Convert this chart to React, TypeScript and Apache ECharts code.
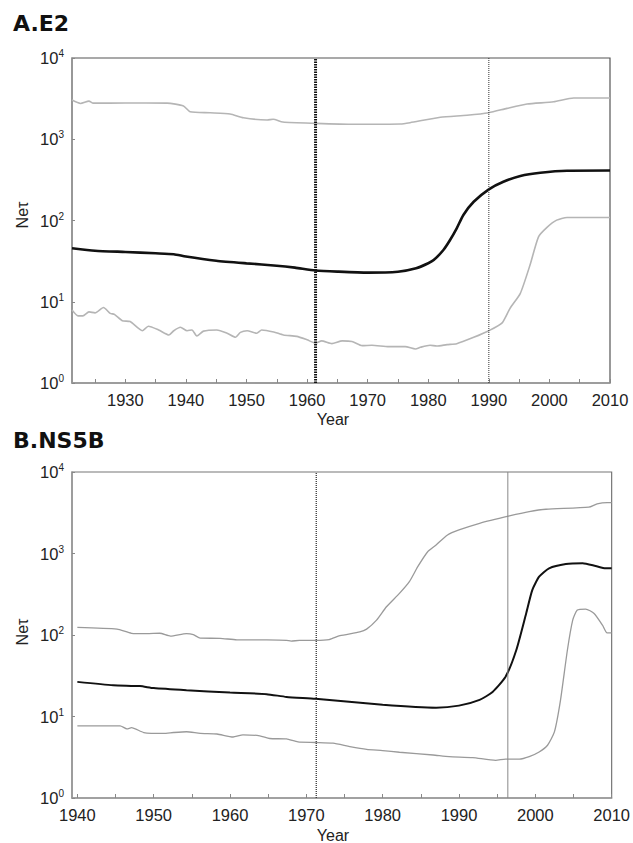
import React, { useEffect, useRef } from "react";
import * as echarts from "echarts";

// ---- Panel A (E2) ----
const aMedian: [number, number][] = [[1921.2,45.5],[1925,42.5],[1930,41],[1935,39.5],[1938,38.5],[1940,36],[1945,32],[1950,29.7],[1955,27.8],[1958,26.3],[1961.4,24.3],[1965,23.5],[1970,22.8],[1975,23.4],[1978,25.8],[1980,29.8],[1980.9,32.6],[1982.5,43.3],[1983.6,57.5],[1984.7,80],[1985.8,117],[1987.5,170],[1990,242],[1992.4,300],[1995.2,353],[1998.5,387],[2002.9,410],[2010,412]];
const aUpper: [number, number][] = [[1921.2,3040],[1922.6,2760],[1924,2950],[1924.7,2780],[1930,2790],[1936.9,2780],[1939.6,2570],[1940.7,2185],[1944,2120],[1947.3,2045],[1949.5,1840],[1953.4,1725],[1954.4,1760],[1956,1630],[1961.4,1570],[1967.7,1528],[1975.4,1540],[1977,1600],[1982,1862],[1986.4,1972],[1990,2120],[1993,2400],[1996.3,2715],[2000.7,2890],[2004,3220],[2010,3220]];
const aLower: [number, number][] = [[1921.2,7.9],[1922.2,6.7],[1923,6.7],[1924,7.5],[1925,7.3],[1926.4,8.5],[1927.5,7.2],[1928.2,7.0],[1929.5,5.85],[1930.8,5.7],[1932.8,4.4],[1933.8,5.0],[1935.5,4.5],[1937.2,3.9],[1938,4.4],[1939.1,4.85],[1940.2,4.4],[1941,4.5],[1941.8,3.8],[1942.9,4.35],[1945.1,4.5],[1946.8,4.1],[1948.2,3.65],[1949,4.2],[1950.1,4.4],[1951.7,4.1],[1952.5,4.5],[1954.5,4.25],[1956.1,3.9],[1958.3,3.75],[1960,3.4],[1961.4,3.1],[1962.4,3.3],[1964.1,3.05],[1965.8,3.3],[1967.4,3.25],[1969.1,2.88],[1970.7,2.92],[1973.5,2.8],[1976.2,2.8],[1977.9,2.62],[1978.7,2.75],[1980.3,2.92],[1981.4,2.85],[1983.1,2.97],[1984.7,3.05],[1987.5,3.65],[1990,4.4],[1992.2,5.5],[1993.5,8.3],[1995.2,12.7],[1996.8,28.3],[1998.2,63],[1999.6,82.5],[2001.2,101],[2002.9,109],[2010,109]];
const aMarks = [1961.4, 1990];

// ---- Panel B (NS5B) ----
const bMedian: [number, number][] = [[1940,26.6],[1944.7,24.2],[1948.2,23.6],[1950,22.3],[1954.3,21],[1960,19.7],[1964.8,18.8],[1967.4,17.4],[1971.2,16.5],[1980,13.9],[1987,12.8],[1990,13.6],[1992.7,16],[1994.4,20],[1996.1,30.7],[1997.5,65],[1998.8,184],[1999.6,356],[2000.5,519],[2001.8,658],[2004,743],[2006.2,758],[2007.9,702],[2009.2,658],[2010,658]];
const bUpper: [number, number][] = [[1940,124],[1945.2,118],[1947.1,105],[1949.1,104],[1950.8,105],[1952.2,97],[1954.3,104],[1955.2,101],[1956.1,91.6],[1958.7,91],[1960.9,87.3],[1964.8,87],[1967.4,86],[1968,84],[1969.1,86],[1971.2,86],[1973,88],[1974.4,98],[1977,109],[1977.9,118],[1979.2,152],[1980.5,222],[1982.2,324],[1983.5,451],[1984.6,689],[1985.9,1052],[1987,1272],[1988.5,1686],[1990,1944],[1992.7,2350],[1996.6,2890],[1999.2,3266],[2001.4,3490],[2007,3700],[2008.1,4060],[2009.4,4210],[2010,4210]];
const bLower: [number, number][] = [[1940,7.67],[1945.6,7.67],[1946.5,7.04],[1947.1,7.3],[1948.7,6.36],[1951.3,6.2],[1952.6,6.36],[1954.3,6.5],[1956.1,6.2],[1958.3,6.1],[1960.4,5.6],[1961.7,5.95],[1963.9,5.8],[1965.2,5.37],[1967.4,5.3],[1968.9,4.87],[1971.2,4.8],[1973.5,4.7],[1975.7,4.28],[1977.9,3.96],[1980,3.82],[1982.2,3.64],[1986.6,3.37],[1988.7,3.22],[1991.8,3.13],[1994.8,2.9],[1996.1,3.0],[1997.9,3.0],[1999.2,3.22],[2000.5,3.67],[2001.6,4.44],[2002.5,6.47],[2003.3,15.9],[2004.2,65],[2004.9,152],[2005.5,202],[2006.6,208],[2007.7,184],[2008.8,132],[2009.4,106],[2010,106]];
const bMarks = [1971.3, 1996.4];

const aXLabels = [1930, 1940, 1950, 1960, 1970, 1980, 1990, 2000, 2010];
const aXTicks = [1925, 1930, 1935, 1940, 1945, 1950, 1955, 1960, 1965, 1970, 1975, 1980, 1985, 1990, 1995, 2000, 2005, 2010];
const bXLabels = [1940, 1950, 1960, 1970, 1980, 1990, 2000, 2010];
const bXTicks = [1940, 1945, 1950, 1955, 1960, 1965, 1970, 1975, 1980, 1985, 1990, 1995, 2000, 2005, 2010];
const yMin = 1;
const yMax = 10000;

const FONT = "'Liberation Sans', Arial, sans-serif";

function xAxis(gridIndex: number, min: number, labels: number[], ticks: number[]) {
  return {
    type: "value",
    gridIndex,
    min,
    max: 2010,
    axisLine: { show: true, lineStyle: { color: "#999", width: 1.5 } },
    axisTick: { show: true, inside: true, length: 4, customValues: ticks, lineStyle: { color: "#888" } },
    axisLabel: {
      customValues: labels,
      formatter: (v: number) => String(Math.round(v)),
      color: "#222",
      fontSize: 16.5,
      fontFamily: FONT,
      margin: 8,
    },
    splitLine: { show: false },
  };
}

function yAxis(gridIndex: number) {
  return {
    type: "log",
    logBase: 10,
    gridIndex,
    min: yMin,
    max: yMax,
    axisLine: { show: true, lineStyle: { color: "#999", width: 1.5 } },
    axisTick: { show: true, inside: true, length: 3, lineStyle: { color: "#888" } },
    minorTick: { show: false },
    splitLine: { show: false },
    axisLabel: {
      margin: 8,
      color: "#222",
      fontSize: 16.5,
      fontFamily: FONT,
      formatter: (v: number) => "10{s|" + Math.round(Math.log10(v)) + "}",
      rich: { s: { fontSize: 10, fontFamily: FONT, color: "#222", verticalAlign: "bottom", padding: [0, 0, 9, 0] } },
    },
  };
}

function line(idx: number, data: [number, number][], color: string, width: number) {
  return {
    type: "line",
    xAxisIndex: idx,
    yAxisIndex: idx,
    data,
    showSymbol: false,
    symbol: "none",
    smooth: 0.2,
    lineStyle: { color, width },
    z: 3,
  };
}

function vline(idx: number, x: number, color: string, width: number, type: any) {
  return {
    type: "line",
    xAxisIndex: idx,
    yAxisIndex: idx,
    data: [[x, yMin], [x, yMax]],
    showSymbol: false,
    symbol: "none",
    lineStyle: { color, width, type },
    z: 4,
  };
}

export default function App() {
  const ref = useRef<HTMLDivElement>(null);
  useEffect(() => {
    if (!ref.current) return;
    const chart = echarts.init(ref.current, null, { renderer: "svg" });
    chart.setOption({
      animation: false,
      backgroundColor: "#fff",
      grid: [
        { left: 72, top: 58, width: 538, height: 325, show: true, borderColor: "#555", borderWidth: 1.2, backgroundColor: "transparent" },
        { left: 72, top: 472, width: 541, height: 326, show: true, borderColor: "#777", borderWidth: 1.2, backgroundColor: "transparent" },
      ],
      xAxis: [xAxis(0, 1921.2, aXLabels, aXTicks), xAxis(1, 1939.3, bXLabels, bXTicks)],
      yAxis: [yAxis(0), yAxis(1)],
      series: [
        line(0, aUpper, "#b5b5b5", 1.6),
        line(0, aLower, "#b5b5b5", 1.6),
        line(0, aMedian, "#111", 2.6),
        vline(0, aMarks[0], "#111", 3, [1.5, 1]),
        vline(0, aMarks[1], "#333", 1, [1, 1]),
        line(1, bUpper, "#9a9a9a", 1.3),
        line(1, bLower, "#9a9a9a", 1.3),
        line(1, bMedian, "#111", 2),
        vline(1, bMarks[0], "#333", 1.3, [1, 1]),
        vline(1, bMarks[1], "#888", 1, "solid"),
      ],
      graphic: [
        { type: "text", left: 13, top: 12, style: { text: "A.E2", font: "bold 22px 'DejaVu Sans'", fill: "#111" } },
        { type: "text", left: 13, top: 429, style: { text: "B.NS5B", font: "bold 22px 'DejaVu Sans'", fill: "#111" } },
        { type: "text", x: 333, y: 419, style: { text: "Year", font: "16px " + FONT, fill: "#222", align: "center", verticalAlign: "middle" } },
        { type: "text", x: 333, y: 835, style: { text: "Year", font: "16px " + FONT, fill: "#222", align: "center", verticalAlign: "middle" } },
        { type: "text", x: 22, y: 215, rotation: Math.PI / 2, style: { text: "Neτ", font: "16px " + FONT, fill: "#222", align: "center", verticalAlign: "middle" } },
        { type: "text", x: 22, y: 632, rotation: Math.PI / 2, style: { text: "Neτ", font: "16px " + FONT, fill: "#222", align: "center", verticalAlign: "middle" } },
      ],
    });
    return () => chart.dispose();
  }, []);
  return <div ref={ref} style={{ position: "absolute", left: 0, top: 0, width: 633, height: 843 }} />;
}
